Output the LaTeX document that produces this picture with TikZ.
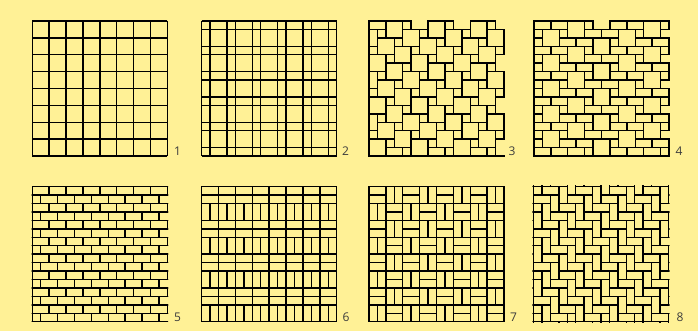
\documentclass[tikz,border=0pt]{standalone}
\usepackage{fontspec}
\setmainfont{Open Sans}
\definecolor{bg}{RGB}{255,241,150}
\definecolor{lab}{RGB}{60,60,60}
\begin{document}
\begin{tikzpicture}[x=1pt,y=-1pt,
  tile/.style={draw=black, line width=1.45pt, line join=miter},
  lbl/.style={font=\fontsize{12}{13}\selectfont, text=lab, anchor=base, inner sep=0pt},
  panel/.style={x=8.4375pt, y=-8.4375pt}]
\fill[bg] (0,0) rectangle (698,331);
\useasboundingbox (0,0) rectangle (698,331);

% ---------- Panel 1: square grid
\begin{scope}[shift={(32.3,21)}, panel]
  \foreach \i in {0,2,...,16} {
    \draw[tile] (\i,0) -- (\i,16);
    \draw[tile] (0,\i) -- (16,\i);
  }
\end{scope}
\node[lbl] (l1) at (177.5,156) {1};

% ---------- Panel 2: plaid grid
\begin{scope}[shift={(201.7,21)}, panel]
  \foreach \i in {0,1,3,4,6,7,9,10,12,13,15,16} {
    \draw[tile] (\i,0) -- (\i,16);
    \draw[tile] (0,\i) -- (16,\i);
  }
\end{scope}
\node[lbl] (l2) at (345.5,156) {2};

% ---------- Panel 3: pythagorean tiling
\begin{scope}[shift={(369,21)}, panel]
  \begin{scope}
    \clip (-0.09,-0.09) rectangle (16.09,16.09);
    \foreach \m in {-3,...,10} {
      \foreach \n in {-5,...,8} {
        \pgfmathtruncatemacro{\xa}{2+2*\m-\n}
        \pgfmathtruncatemacro{\ya}{\m+2*\n}
        \draw[tile] (\xa,\ya) rectangle ++(2,2);
        \draw[tile] (\xa+2,\ya) rectangle ++(1,1);
      }
    }
  \end{scope}
  \draw[tile] (2,0) -- (0,0) -- (0,16) -- (16,16);
\end{scope}
\node[lbl] (l3) at (512,156) {3};

% ---------- Panel 4: ashlar pattern
\begin{scope}[shift={(534,21)}, panel]
  \begin{scope}
    \clip (-0.09,-0.09) rectangle (16.09,16.09);
    \foreach \r in {-2,...,16} {
      \pgfmathtruncatemacro{\a}{mod(4-3*\r+90,9)}
      \foreach \k in {-1,0,1,2} {
        \pgfmathtruncatemacro{\b}{\a+9*\k}
        \draw[tile] (\b,\r) rectangle ++(2,2);
        \draw[tile] (\b+2,\r) rectangle ++(1,1);
        \draw[tile] (\b+5,\r) rectangle ++(2,1);
        \draw[tile] (\b+7,\r) rectangle ++(2,1);
      }
    }
  \end{scope}
  \draw[tile] (0,0) -- (0,16) -- (16,16);
\end{scope}
\node[lbl] (l4) at (679,156) {4};

% ---------- Panel 5: running bond
\begin{scope}[shift={(32.3,186.7)}, panel]
  \begin{scope}
    \clip (-0.09,-0.09) rectangle (16.09,16.09);
    \foreach \r in {0,...,15} {
      \pgfmathtruncatemacro{\off}{mod(\r,2)}
      \foreach \k in {0,...,8} {
        \draw[tile] ({2*\k-\off},\r) rectangle ++(2,1);
      }
    }
  \end{scope}
  \draw[tile] (0,0) -- (0,16) -- (16,16);
\end{scope}
\node[lbl] (l5) at (177.5,321.7) {5};

% ---------- Panel 6: stack with soldier courses
\begin{scope}[shift={(201.7,186.7)}, panel]
  \foreach \b in {0,4,8,12} {
    \foreach \k in {0,...,7} {
      \draw[tile] (2*\k,\b) rectangle ++(2,1);
      \draw[tile] (2*\k,\b+1) rectangle ++(2,1);
    }
    \foreach \k in {0,...,15} {
      \draw[tile] (\k,\b+2) rectangle ++(1,2);
    }
  }
\end{scope}
\node[lbl] (l6) at (346,321.7) {6};

% ---------- Panel 7: basketweave
\begin{scope}[shift={(369,186.7)}, panel]
  \foreach \i in {0,...,7} {
    \foreach \j in {0,...,7} {
      \draw[tile] (2*\i,2*\j) rectangle ++(2,2);
      \pgfmathtruncatemacro{\p}{mod(\i+\j,2)}
      \ifnum\p=0
        \draw[tile] (2*\i,2*\j+1) -- ++(2,0);
      \else
        \draw[tile] (2*\i+1,2*\j) -- ++(0,2);
      \fi
    }
  }
\end{scope}
\node[lbl] (l7) at (513.5,321.7) {7};

% ---------- Panel 8: herringbone
\begin{scope}[shift={(533.5,186.7)}, panel]
  \begin{scope}
    \clip (-0.09,-0.09) rectangle (16.09,16.09);
    \foreach \n in {-2,...,9} {
      \foreach \m in {-11,...,10} {
        \pgfmathtruncatemacro{\xa}{1+\m+2*\n}
        \pgfmathtruncatemacro{\ya}{-\m+2*\n}
        \draw[tile] (\xa,\ya) rectangle ++(2,1);
        \draw[tile] (\xa+2,\ya) rectangle ++(1,2);
      }
    }
  \end{scope}
  \draw[tile] (1,0) -- (0,0) -- (0,16) -- (16,16);
\end{scope}
\node[lbl] (l8) at (680,321.7) {8};
\end{tikzpicture}
\end{document}
